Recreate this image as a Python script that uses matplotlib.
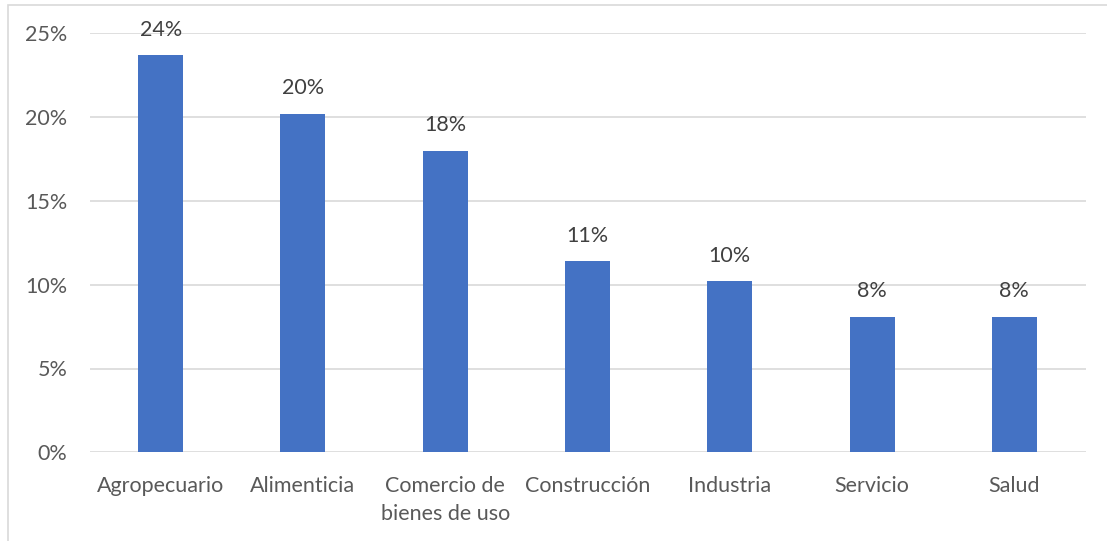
import matplotlib
matplotlib.use("Agg")
import matplotlib.pyplot as plt
from matplotlib.patches import Rectangle
from matplotlib.ticker import PercentFormatter, MultipleLocator

categories = ["Agropecuario", "Alimenticia", "Comercio de\nbienes de uso", "Construcción",
              "Industria", "Servicio", "Salud"]
shares = [0.237, 0.202, 0.180, 0.114, 0.102, 0.081, 0.081]

plt.rcParams["font.family"] = ["Lato", "DejaVu Sans"]

W, H = 1107, 541
fig = plt.figure(figsize=(W / 100, H / 100), dpi=100)

# outer chart border (light grey), running off the right and bottom edges
fig.patches.append(Rectangle((8 / W, -0.2), 1.2, 1.2 - 5 / H, transform=fig.transFigure,
                             fill=False, edgecolor="#d9d9d9", linewidth=1.2))

ax = fig.add_axes([89.5 / W, 1 - 452.3 / H, (1085.5 - 89.5) / W, (452.3 - 33.3) / H])
x = range(len(categories))
bars = ax.bar(x, shares, width=0.316, color="#4472c4", zorder=3)

ax.set_xlim(-0.5, len(categories) - 0.5)
ax.set_ylim(0, 0.25)
ax.yaxis.set_major_locator(MultipleLocator(0.05))
ax.yaxis.set_major_formatter(PercentFormatter(1.0, decimals=0))
ax.grid(axis="y", color="#d9d9d9", linewidth=1.2, zorder=0)
for s in ax.spines.values():
    s.set_visible(False)
ax.tick_params(axis="both", length=0, labelsize=15.5, colors="#595959")
ax.tick_params(axis="y", pad=16)
ax.tick_params(axis="x", pad=17)
ax.set_xticks(list(x))
ax.set_xticklabels(categories, va="top", linespacing=1.5)

for b, v in zip(bars, shares):
    ax.annotate(f"{v * 100:.0f}%", (b.get_x() + b.get_width() / 2, v),
                xytext=(0, 11), textcoords="offset points", ha="center", va="bottom",
                fontsize=15.5, color="#404040")

fig.savefig("out.png", dpi=100)
